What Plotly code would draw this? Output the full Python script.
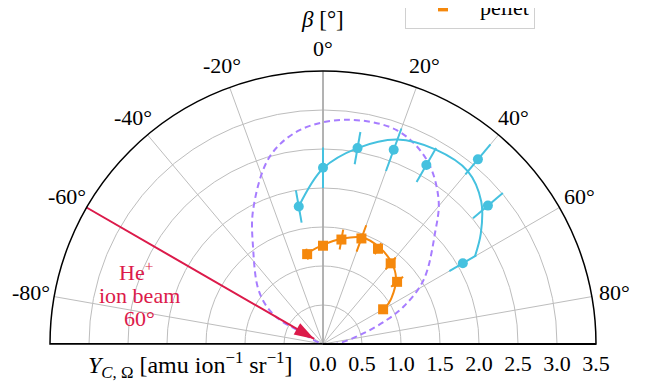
import math
import plotly.graph_objects as go

# ---------------- data ----------------
beta = [-10, 0, 10, 20, 30, 40, 50, 60]                      # emission angle beta [deg]
foil_Y = [1.79, 2.26, 2.55, 2.65, 2.65, 3.09, 2.76, 2.07]     # cyan circles
foil_err = [0.21, 0.26, 0.21, 0.29, 0.25, 0.25, 0.25, 0.20]
pellet_Y = [1.17, 1.26, 1.36, 1.44, 1.41, 1.35, 1.24, 0.89]   # orange squares
pellet_err = [0.07, 0.05, 0.13, 0.18, 0.08, 0.10, 0.10, 0.06]

foil_fit_beta = [-10, 0, 10, 20, 30, 40, 48, 55, 60]
foil_fit_Y = [1.79, 2.25, 2.55, 2.79, 2.88, 2.89, 2.73, 2.47, 2.25]
pellet_fit_beta = [-10, 0, 10, 20, 30, 40, 48, 56, 60]
pellet_fit_Y = [1.18, 1.27, 1.37, 1.455, 1.435, 1.366, 1.26, 1.06, 0.92]

lobe_beta = [-62, -61.5, -60.8, -56.5, -49.3, -36.6, -27.5, -15.8, -6.1, 6.0,
             19.0, 29.4, 38.7, 45.3, 57.5, 65.1, 69.4, 75.1, 87.4, 90]
lobe_Y = [0.0, 0.38, 0.63, 0.86, 1.10, 1.50, 1.94, 2.50, 2.76, 2.89,
          2.90, 2.71, 2.37, 2.02, 1.53, 1.14, 0.87, 0.54, 0.20, 0.0]

beam_angle = -60
beam_r = [3.5, 0.13]

ang_ticks = [-80, -60, -40, -20, 0, 20, 40, 60, 80]
ang_labels = ["-80°", "-60°", "-40°", "-20°", "0°", "20°", "40°", "60°", "80°"]
r_ticks = [0, 0.5, 1.0, 1.5, 2.0, 2.5, 3.0, 3.5]
r_labels = ["0.0", "0.5", "1.0", "1.5", "2.0", "2.5", "3.0", "3.5"]
r_max = 3.5

SERIF = "Liberation Serif"
CYAN = "#45c1df"
ORANGE = "#f5880c"
PURPLE = "#a77dff"
RED = "#dc1a4a"
GRID = "#bdbdbd"
FS = 22


def err_segments(theta, r, e):
    th, rr = [], []
    for t, v, d in zip(theta, r, e):
        th += [t, t, None]
        rr += [v - d, v + d, None]
    return th, rr


fig = go.Figure()

# left frame edge and emphasised 0 deg line
fig.add_trace(go.Scatterpolar(theta=[-90, -90], r=[0, r_max], mode="lines",
                              line=dict(color="black", width=2), showlegend=False, hoverinfo="skip"))
fig.add_trace(go.Scatterpolar(theta=[0, 0], r=[0, r_max], mode="lines",
                              line=dict(color="#a8a8a8", width=1.6), showlegend=False, hoverinfo="skip"))

# cosine-like lobe
fig.add_trace(go.Scatterpolar(theta=lobe_beta, r=lobe_Y, mode="lines",
                              line=dict(color=PURPLE, width=2, dash="6px,4px", shape="spline"),
                              showlegend=False, hoverinfo="skip"))

# ion beam arrow
fig.add_trace(go.Scatterpolar(theta=[beam_angle, beam_angle], r=beam_r, mode="lines",
                              line=dict(color=RED, width=2), showlegend=False, hoverinfo="skip"))
fig.add_trace(go.Scatterpolar(theta=[beam_angle], r=[beam_r[1]], mode="markers",
                              marker=dict(symbol="arrow", size=21, angle=180 + beam_angle, color=RED,
                                          line=dict(width=0)),
                              showlegend=False, hoverinfo="skip"))

# foil series
fig.add_trace(go.Scatterpolar(theta=foil_fit_beta, r=foil_fit_Y, mode="lines",
                              line=dict(color=CYAN, width=2, shape="spline"), showlegend=False))
th, rr = err_segments(beta, foil_Y, foil_err)
fig.add_trace(go.Scatterpolar(theta=th, r=rr, mode="lines", line=dict(color=CYAN, width=2),
                              showlegend=False, connectgaps=False))
fig.add_trace(go.Scatterpolar(theta=beta, r=foil_Y, mode="markers", name="foil",
                              marker=dict(symbol="circle", size=10, color=CYAN)))

# pellet series
fig.add_trace(go.Scatterpolar(theta=pellet_fit_beta, r=pellet_fit_Y, mode="lines",
                              line=dict(color=ORANGE, width=2, shape="spline"), showlegend=False))
th, rr = err_segments(beta, pellet_Y, pellet_err)
fig.add_trace(go.Scatterpolar(theta=th, r=rr, mode="lines", line=dict(color=ORANGE, width=2),
                              showlegend=False, connectgaps=False))
fig.add_trace(go.Scatterpolar(theta=beta, r=pellet_Y, mode="markers", name="pellet",
                              marker=dict(symbol="square", size=10, color=ORANGE)))

# geometry (the page body adds an 8 px offset)
W, H = 656, 383
OFF = 8
CX, CY, RAD = 323, 344, 273            # polar centre and radius in page pixels
L = CX - RAD - OFF
T = CY - RAD - OFF
R = W - L - 2 * RAD
B = H - T - RAD


def px(x):
    return (x - (CX - RAD)) / (2 * RAD)


def py(y):
    return (CY - y) / RAD


def note(text, x, y, color="black", size=FS, xanchor="center"):
    return dict(text=text, x=px(x), y=py(y), xref="paper", yref="paper",
                xanchor=xanchor, yanchor="middle", showarrow=False,
                font=dict(family=SERIF, size=size, color=color))


annotations = [
    note("<i>β</i> [°]", 322, 19, size=23),
    note("<i>Y</i><sub><i>C</i>, Ω</sub> [amu ion<sup>−1</sup> sr<sup>−1</sup>]", 294, 365,
         size=24, xanchor="right"),
    note("He<sup>+</sup>", 136, 271, color=RED),
    note("ion beam", 139, 295, color=RED),
    note("60°", 139, 318, color=RED),
]

# angular tick labels, centred on their gridline just outside the frame
lab_pad = 1 + 23 / RAD
for tv, tt in zip(ang_ticks, ang_labels):
    a = math.radians(tv)
    annotations.append(dict(text=tt, x=0.5 + 0.5 * lab_pad * math.sin(a), y=lab_pad * math.cos(a),
                            xref="paper", yref="paper", xanchor="center", yanchor="middle",
                            showarrow=False, font=dict(family=SERIF, size=FS, color="black")))

fig.update_layout(
    width=W, height=H,
    margin=dict(l=L, r=R, t=T, b=B, autoexpand=False),
    paper_bgcolor="white",
    font=dict(family=SERIF, size=FS, color="black"),
    polar=dict(
        domain=dict(x=[0, 1], y=[0, 1]),
        sector=[0, 180],
        bgcolor="white",
        angularaxis=dict(rotation=90, direction="clockwise", tickmode="array",
                         tickvals=ang_ticks, ticktext=ang_labels, showticklabels=False,
                         showline=True, linecolor="black", linewidth=1.5,
                         gridcolor=GRID, gridwidth=1, ticks=""),
        radialaxis=dict(range=[0, r_max], tickmode="array", tickvals=r_ticks, ticktext=r_labels,
                        angle=0, side="clockwise", tickangle=0,
                        showline=True, linecolor="black", linewidth=2,
                        gridcolor=GRID, gridwidth=1, ticks="",
                        tickfont=dict(family=SERIF, size=FS, color="black")),
    ),
    legend=dict(x=px(405), y=py(29), xanchor="left", yanchor="bottom",
                bgcolor="white", bordercolor="#d0d0d0", borderwidth=1, itemwidth=64,
                font=dict(family=SERIF, size=FS, color="black")),
    annotations=annotations,
    showlegend=True,
)

fig.write_html("out.html")
